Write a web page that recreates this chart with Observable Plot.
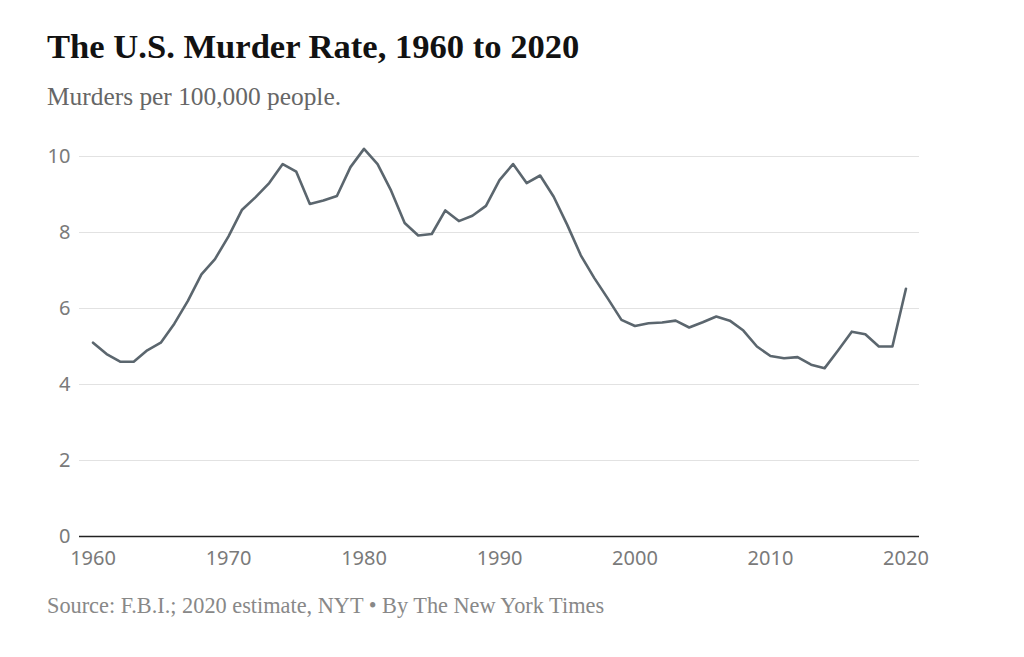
<!DOCTYPE html>
<html>
<head>
<meta charset="utf-8">
<script src="https://cdn.jsdelivr.net/npm/d3@7"></script>
<script src="https://cdn.jsdelivr.net/npm/@observablehq/plot@0.6"></script>
<style>
  html, body { margin: 0; padding: 0; background: #fff; }
  #wrap { position: relative; width: 1024px; height: 657px; overflow: hidden; }
  .title { position: absolute; left: 47px; top: 27px; font-family: "Liberation Serif", serif; font-weight: bold; font-size: 34.6px; color: #121212; white-space: nowrap; }
  .subtitle { position: absolute; left: 47px; top: 82px; font-family: "Liberation Serif", serif; font-size: 25.4px; color: #666; white-space: nowrap; }
  .caption { position: absolute; left: 47px; top: 593px; font-family: "Liberation Serif", serif; font-size: 22.3px; color: #888; white-space: nowrap; }
  #chart { position: absolute; left: 0; top: 130px; }
</style>
</head>
<body>
<div id="wrap">
  <div class="title">The U.S. Murder Rate, 1960 to 2020</div>
  <div class="subtitle">Murders per 100,000 people.</div>
  <div id="chart"></div>
  <div class="caption">Source: F.B.I.; 2020 estimate, NYT • By The New York Times</div>
</div>
<script>
const years = d3.range(1960, 2021);
const rates = [
  5.1, 4.8, 4.6, 4.6, 4.9, 5.1, 5.6, 6.2, 6.9, 7.3,
  7.9, 8.6, 8.93, 9.3, 9.8, 9.6, 8.75, 8.84, 8.96, 9.72,
  10.2, 9.8, 9.1, 8.25, 7.92, 7.96, 8.58, 8.3, 8.44, 8.7,
  9.38, 9.8, 9.3, 9.5, 8.94, 8.2, 7.4, 6.8, 6.26, 5.7,
  5.54, 5.61, 5.63, 5.68, 5.5, 5.64, 5.79, 5.68, 5.42, 5.0,
  4.75, 4.69, 4.72, 4.52, 4.43, 4.9, 5.39, 5.32, 5.0, 5.0,
  6.52
];
const xTicks = [1960, 1970, 1980, 1990, 2000, 2010, 2020];
const yTicks = [0, 2, 4, 6, 8, 10];

const data = years.map((y, i) => ({year: y, rate: rates[i]}));

const chart = Plot.plot({
  width: 1024,
  height: 450,
  marginLeft: 79,
  marginRight: 105,
  marginTop: 26,
  marginBottom: 44,
  style: {fontFamily: "'Noto Sans', sans-serif", fontSize: "20px", color: "#777", background: "transparent"},
  x: {domain: [1959, 2021], ticks: xTicks, tickFormat: d => String(d), tickSize: 0, tickPadding: 14, label: null},
  y: {domain: [0, 10], ticks: yTicks, tickSize: 0, tickPadding: 9, label: null},
  marks: [
    Plot.gridY(yTicks.filter(d => d > 0), {stroke: "#e2e2e2", strokeOpacity: 1, strokeWidth: 1}),
    Plot.ruleY([0], {stroke: "#222", strokeWidth: 1.5}),
    Plot.axisX({ticks: xTicks, tickFormat: d => String(d), tickSize: 0, tickPadding: 14, fill: "#7a7a7a", label: null}),
    Plot.axisY({ticks: yTicks, tickSize: 0, tickPadding: 9, fill: "#7a7a7a", label: null}),
    Plot.line(data, {x: "year", y: "rate", stroke: "#5b666e", strokeWidth: 2.6, curve: "linear"})
  ]
});
document.getElementById("chart").appendChild(chart);
</script>
</body>
</html>
